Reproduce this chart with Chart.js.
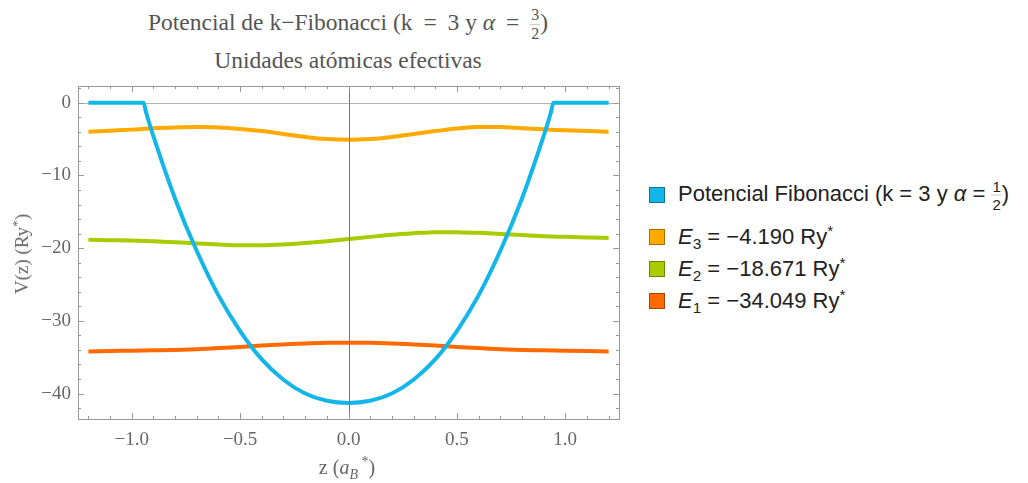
<!DOCTYPE html>
<html>
<head>
<meta charset="utf-8">
<script src="https://cdn.jsdelivr.net/npm/chart.js@4.4.1/dist/chart.umd.min.js"></script>
<style>
body{margin:0;width:1028px;height:483px;background:#fff;position:relative;overflow:hidden;font-family:"Liberation Serif",serif;}
#wrap{position:absolute;left:0;top:0;width:640px;height:483px;}
.title{position:absolute;left:0;width:696px;text-align:center;color:#555;font-size:23.5px;white-space:nowrap;}
.eq{padding:0 5px;}
.frac{display:inline-block;vertical-align:middle;text-align:center;line-height:1;}
.frac span{display:block;}
.frac .num{border-bottom:1px solid #ccc;padding:0 1px 1px;}
.frac .den{padding-top:1px;}
.axt{position:absolute;color:#666;font-size:19px;white-space:nowrap;}
.row{position:absolute;left:649px;height:16px;font-family:"Liberation Sans",sans-serif;font-size:22px;color:#222;white-space:nowrap;}
.sw{position:absolute;left:0;top:0;width:14px;height:14px;border:1px solid rgba(0,0,0,0.35);}
.lt{position:absolute;left:29px;top:50%;transform:translateY(-50%);}
sub,sup{font-size:70%;line-height:0;}
</style>
</head>
<body>
<div class="title" style="top:7px">Potencial de k−Fibonacci (k <span class="eq">=</span> 3 y <i>α</i> <span class="eq">=</span> <span class="frac" style="font-size:16px"><span class="num">3</span><span class="den">2</span></span>)</div>
<div class="title" style="top:47px">Unidades atómicas efectivas</div>
<div id="wrap"><canvas id="chart"></canvas></div>
<div class="axt" style="left:22px;top:254px;transform:translate(-50%,-50%) rotate(-90deg)">V(z) (Ry<sup>*</sup>)</div>
<div class="axt" style="left:347px;top:467px;font-size:20px;transform:translate(-50%,-50%)">z&nbsp;(<i>a</i><sub><i>B</i></sub><sup>&nbsp;*</sup>)</div>
<div id="legend"></div>
<script>
// Data
const zGrid = [-1.2,-1.1,-1.0,-0.9,-0.8,-0.7,-0.6,-0.5,-0.4,-0.3,-0.2,-0.1,0,0.1,0.2,0.3,0.4,0.5,0.6,0.7,0.8,0.9,1.0,1.1,1.2];
const e3Wave = [-4.0,-3.85,-3.7,-3.5,-3.4,-3.35,-3.4,-3.6,-3.9,-4.3,-4.7,-5.0,-5.1,-5.0,-4.7,-4.3,-3.9,-3.55,-3.35,-3.35,-3.5,-3.65,-3.8,-3.9,-4.0];
const e2Wave = [-18.85,-18.9,-18.95,-19.05,-19.2,-19.35,-19.5,-19.6,-19.6,-19.5,-19.3,-19.05,-18.75,-18.45,-18.15,-17.95,-17.8,-17.8,-17.9,-18.05,-18.2,-18.35,-18.45,-18.55,-18.6];
const e1Wave = [-34.2,-34.15,-34.1,-34.05,-34.0,-33.9,-33.75,-33.6,-33.4,-33.25,-33.1,-33.0,-33.0,-33.0,-33.1,-33.25,-33.4,-33.6,-33.75,-33.9,-34.0,-34.05,-34.1,-34.15,-34.2];
const zPot = [-1.2,-0.945,-0.935,-0.9,-0.8,-0.7,-0.6,-0.5,-0.4,-0.3,-0.2,-0.1,0,0.1,0.2,0.3,0.4,0.5,0.6,0.7,0.8,0.9,0.935,0.945,1.2];
const vPot = [0,0,-1.2,-4.6,-13.2,-20.4,-26.5,-31.4,-35.3,-38.1,-40.0,-41.0,-41.3,-41.0,-40.0,-38.1,-35.3,-31.4,-26.5,-20.4,-13.2,-4.6,-1.2,0,0];

const xMajor = [-1.0,-0.5,0,0.5,1.0];
const yMajor = [-40,-30,-20,-10,0];

const seriesNames = [
  'Potencial Fibonacci (k = 3 y <i>α</i> = <span class="frac" style="font-size:15px"><span class="num">1</span><span class="den">2</span></span>)',
  '<i>E</i><sub>3</sub> = −4.190 Ry<sup>*</sup>',
  '<i>E</i><sub>2</sub> = −18.671 Ry<sup>*</sup>',
  '<i>E</i><sub>1</sub> = −34.049 Ry<sup>*</sup>'
];
const seriesColors = ['#14b6ea','#ffaa00','#a8cc00','#ff6a00'];
const legendTops = [187,229,261,293];

const pts = (xs,ys)=> xs.map((x,i)=>({x, y: ys[i]}));
const minus = s => String(s).replace('-','−');

// minor ticks
const xTicks = []; for(let i=-12;i<=12;i++) xTicks.push(i/10);
const yTicks = []; for(let v=-42;v<=2;v+=2) yTicks.push(v);

const frame = {
  id:'frame',
  beforeDatasetsDraw(chart){
    const {ctx, chartArea:a, scales:{y}} = chart;
    const y0 = Math.round(y.getPixelForValue(0))+0.5;
    ctx.save(); ctx.strokeStyle='#b5b5b5'; ctx.lineWidth=1;
    ctx.beginPath(); ctx.moveTo(a.left,y0); ctx.lineTo(a.right,y0); ctx.stroke();
    ctx.restore();
  },
  afterDatasetsDraw(chart){
    const {ctx, chartArea:a, scales:{x,y}} = chart;
    ctx.save(); ctx.lineWidth=1;
    const x0 = Math.round(x.getPixelForValue(0))+0.5;
    ctx.strokeStyle='#777';
    ctx.beginPath(); ctx.moveTo(x0,a.top); ctx.lineTo(x0,a.bottom); ctx.stroke();
    ctx.strokeStyle='#999';
    ctx.strokeRect(Math.round(a.left)+0.5, Math.round(a.top)+0.5, Math.round(a.right-a.left), Math.round(a.bottom-a.top));
    ctx.beginPath();
    xTicks.forEach(v=>{
      const p = Math.round(x.getPixelForValue(v))+0.5;
      const len = xMajor.some(m=>Math.abs(m-v)<1e-6) ? 6 : 3;
      ctx.moveTo(p,a.bottom); ctx.lineTo(p,a.bottom-len);
      ctx.moveTo(p,a.top); ctx.lineTo(p,a.top+len);
    });
    yTicks.forEach(v=>{
      const p = Math.round(y.getPixelForValue(v))+0.5;
      const len = v%10===0 ? 6 : 3;
      ctx.moveTo(a.left,p); ctx.lineTo(a.left+len,p);
      ctx.moveTo(a.right,p); ctx.lineTo(a.right-len,p);
    });
    ctx.stroke();
    ctx.restore();
  }
};

const tickFont = {family:'"Liberation Serif", serif', size:19};

new Chart(document.getElementById('chart'), {
  type:'line',
  data:{
    datasets:[
      {label:'pot', data:pts(zPot,vPot), borderColor:seriesColors[0]},
      {label:'E3', data:pts(zGrid,e3Wave), borderColor:seriesColors[1]},
      {label:'E2', data:pts(zGrid,e2Wave), borderColor:seriesColors[2]},
      {label:'E1', data:pts(zGrid,e1Wave), borderColor:seriesColors[3]}
    ]
  },
  options:{
    responsive:true, maintainAspectRatio:false, animation:false,
    layout:{padding:{top:86,right:21,left:0,bottom:0}},
    elements:{point:{radius:0}, line:{borderWidth:4, cubicInterpolationMode:'monotone', borderCapStyle:'butt'}},
    plugins:{legend:{display:false}, tooltip:{enabled:false}},
    scales:{
      x:{
        type:'linear', min:-1.248, max:1.248,
        afterBuildTicks: s=>{ s.ticks = xTicks.map(v=>({value:v})); },
        afterFit: s=>{ s.height = 64; },
        grid:{display:false, drawTicks:false},
        border:{display:false},
        ticks:{autoSkip:false, maxRotation:0, padding:10, color:'#666', font:tickFont,
          callback:v=> xMajor.some(m=>Math.abs(m-v)<1e-6) ? minus(v.toFixed(1)) : ''}
      },
      y:{
        type:'linear', min:-43.5, max:2.3,
        afterBuildTicks: s=>{ s.ticks = yTicks.map(v=>({value:v})); },
        afterFit: s=>{ s.width = 78; },
        grid:{display:false, drawTicks:false},
        border:{display:false},
        ticks:{autoSkip:false, padding:7, color:'#666', font:tickFont,
          callback:v=> yMajor.includes(v) ? minus(v) : ''}
      }
    }
  },
  plugins:[frame]
});

// legend
const lg = document.getElementById('legend');
seriesNames.forEach((n,i)=>{
  const r = document.createElement('div');
  r.className='row'; r.style.top = legendTops[i]+'px';
  r.innerHTML = `<span class="sw" style="background:${seriesColors[i]}"></span><span class="lt">${n}</span>`;
  lg.appendChild(r);
});
</script>
</body>
</html>
